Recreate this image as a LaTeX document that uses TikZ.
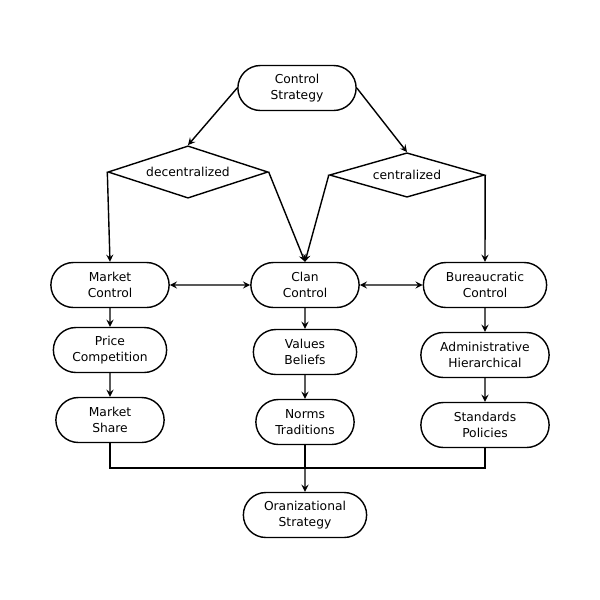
\documentclass[tikz,border=0pt]{standalone}
\usepackage{fontspec}
\setmainfont{DejaVu Sans}
\usetikzlibrary{shapes.geometric, shapes.misc, arrows, positioning, calc}
\tikzstyle{block} = [rounded rectangle, minimum height=0.9cm, align=center, draw=black, thick, font=\fontsize{7}{9}\selectfont]
\tikzstyle{decision} = [diamond, aspect=1.95, minimum width=3.2cm, inner sep=0pt, draw=black, thick, font=\fontsize{7}{9}\selectfont]
\tikzstyle{arrow} = [thick,->,>=stealth]
\tikzstyle{both} = [thick,<->,>=stealth]

\begin{document}
\begin{tikzpicture}[x=0.02cm, y=-0.02cm]
    \useasboundingbox (0,0) rectangle (600,600);
    % top
    \node (cs) [block, minimum width=2.6cm] at (297,88) {Control\\Strategy};
    \node (dec) [decision] at (188,172) {decentralized};
    \node (cen) [decision, minimum width=3.1cm] at (407,175) {centralized};

    % three controls
    \node (mc) [block, minimum width=2.6cm] at (110,285) {Market\\Control};
    \node (cc) [block, minimum width=2.4cm] at (305,285) {Clan\\Control};
    \node (bc) [block, minimum width=2.7cm] at (485,285) {Bureaucratic\\Control};

    % columns
    \node (pc) [block, minimum width=2.5cm] at (110,350) {Price\\Competition};
    \node (vb) [block, minimum width=2.3cm] at (305,352) {Values\\Beliefs};
    \node (ah) [block, minimum width=2.8cm] at (485,355) {Administrative\\Hierarchical};
    \node (ms) [block, minimum width=2.4cm] at (110,420) {Market\\Share};
    \node (nt) [block, minimum width=2.2cm] at (305,422) {Norms\\Traditions};
    \node (sp) [block, minimum width=2.8cm] at (485,425) {Standards\\Policies};

    \node (os) [block, minimum width=2.7cm] at (305,515) {Oranizational\\Strategy};
    \coordinate (jn) at (305,468);

    \draw [arrow] (cs.west) -- (dec.north);
    \draw [arrow] (cs.east) -- (cen.north);
    \draw [arrow] (dec.west) -- (mc.north);
    \draw [arrow] (dec.east) -- (cc.north);
    \draw [arrow] (cen.west) -- (cc.north);
    \draw [arrow] (cen.east) -- (bc.north);
    \draw [both] (mc) -- (cc);
    \draw [both] (cc) -- (bc);
    \draw [arrow] (mc) -- (pc);
    \draw [arrow] (pc) -- (ms);
    \draw [arrow] (cc) -- (vb);
    \draw [arrow] (vb) -- (nt);
    \draw [arrow] (bc) -- (ah);
    \draw [arrow] (ah) -- (sp);
    \draw [thick] (ms.south) |- (jn) -| (sp.south);
    \draw [thick] (nt.south) -- (jn);
    \draw [arrow] (jn) -- (os);
\end{tikzpicture}
\end{document}
